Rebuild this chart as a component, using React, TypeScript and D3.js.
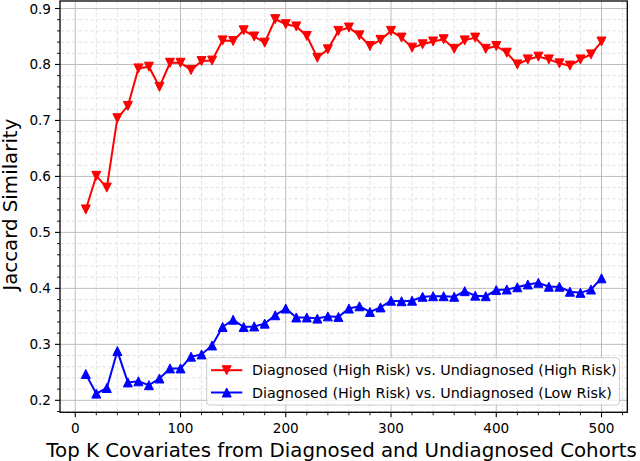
import React from "react";
import * as d3 from "d3";

const kValues = [10,20,30,40,50,60,70,80,90,100,110,120,130,140,150,160,170,180,190,200,210,220,230,240,250,260,270,280,290,300,310,320,330,340,350,360,370,380,390,400,410,420,430,440,450,460,470,480,490,500];
const highRisk = [0.541,0.601,0.580,0.704,0.726,0.793,0.796,0.760,0.803,0.803,0.790,0.806,0.807,0.843,0.842,0.861,0.850,0.839,0.881,0.872,0.868,0.851,0.812,0.827,0.860,0.866,0.852,0.833,0.844,0.860,0.848,0.830,0.836,0.841,0.845,0.828,0.843,0.848,0.828,0.833,0.821,0.800,0.809,0.814,0.809,0.802,0.798,0.809,0.818,0.841];
const lowRisk = [0.247,0.212,0.222,0.288,0.232,0.234,0.227,0.239,0.257,0.257,0.278,0.282,0.298,0.331,0.344,0.331,0.332,0.337,0.352,0.364,0.348,0.348,0.346,0.350,0.349,0.364,0.368,0.358,0.366,0.378,0.377,0.378,0.385,0.386,0.386,0.385,0.395,0.387,0.386,0.397,0.398,0.402,0.407,0.410,0.403,0.403,0.394,0.392,0.398,0.418];
const xTicks = [0,100,200,300,400,500];
const yTicks = [0.2,0.3,0.4,0.5,0.6,0.7,0.8,0.9];
const legendLabels = [
  "Diagnosed (High Risk) vs. Undiagnosed (High Risk)",
  "Diagnosed (High Risk) vs. Undiagnosed (Low Risk)",
];
const xLabel = "Top K Covariates from Diagnosed and Undiagnosed Cohorts";
const yLabel = "Jaccard Similarity";

const W = 640, H = 461;
const L = 60, R = 627.3, T = 1, B = 412.3;
const FONT = "DejaVu Sans, sans-serif";

function tri(up: boolean, s: number) {
  return up
    ? `M0,${-s}L${-s},${s}L${s},${s}Z`
    : `M0,${s}L${-s},${-s}L${s},${-s}Z`;
}

export default function App() {
  const x = d3.scaleLinear().domain([-14.5, 524.5]).range([L, R]);
  const y = d3.scaleLinear().domain([0.1786, 0.9134]).range([B, T]);
  const xMinor = d3.range(0, 521, 20).filter((v) => v % 100 !== 0);
  const yMinor = d3.range(0.18, 0.915, 0.02).filter((v) => Math.abs(Math.round(v * 10) - v * 10) > 0.01);
  const line = d3.line<number>().x((_, i) => x(kValues[i])).y((d) => y(d));
  const series = [
    { data: highRisk, color: "#ff0000", up: false },
    { data: lowRisk, color: "#0000ff", up: true },
  ];
  const lgX = 206.7, lgY = 357.7, lgW = 412.6, lgH = 47.3;
  return (
    <svg width={W} height={H} style={{ position: "absolute", left: 0, top: 0, background: "#fff" }} fontFamily={FONT}>
      {xMinor.map((v) => (
        <line key={"xm" + v} x1={x(v)} x2={x(v)} y1={T} y2={B} stroke="#dcdcdc" strokeWidth={0.8} strokeDasharray="4,2" />
      ))}
      {yMinor.map((v) => (
        <line key={"ym" + v} x1={L} x2={R} y1={y(v)} y2={y(v)} stroke="#dcdcdc" strokeWidth={0.8} strokeDasharray="4,2" />
      ))}
      {xTicks.map((v) => (
        <line key={"xg" + v} x1={x(v)} x2={x(v)} y1={T} y2={B} stroke="#bdbdbd" strokeWidth={1} />
      ))}
      {yTicks.map((v) => (
        <line key={"yg" + v} x1={L} x2={R} y1={y(v)} y2={y(v)} stroke="#bdbdbd" strokeWidth={1} />
      ))}
      {series.map((s, si) => (
        <g key={si}>
          <path d={line(s.data) || ""} fill="none" stroke={s.color} strokeWidth={2} />
          {s.data.map((v, i) => (
            <path key={i} d={tri(s.up, 4.5)} transform={`translate(${x(kValues[i])},${y(v)})`} fill={s.color} stroke={s.color} strokeWidth={1} />
          ))}
        </g>
      ))}
      <rect x={L} y={T} width={R - L} height={B - T} fill="none" stroke="#000" strokeWidth={1.3} />
      {xTicks.map((v) => (
        <g key={"xt" + v}>
          <line x1={x(v)} x2={x(v)} y1={B} y2={B + 5} stroke="#000" strokeWidth={1.1} />
          <text x={x(v)} y={B + 20.5} fontSize={13.6} textAnchor="middle" fill="#000">{v}</text>
        </g>
      ))}
      {xMinor.map((v) => (
        <line key={"xmt" + v} x1={x(v)} x2={x(v)} y1={B} y2={B + 3} stroke="#000" strokeWidth={0.9} />
      ))}
      {yTicks.map((v) => (
        <g key={"yt" + v}>
          <line x1={L} x2={L - 5} y1={y(v)} y2={y(v)} stroke="#000" strokeWidth={1.1} />
          <text x={L - 9} y={y(v) + 5} fontSize={13.6} textAnchor="end" fill="#000">{v.toFixed(1)}</text>
        </g>
      ))}
      {yMinor.map((v) => (
        <line key={"ymt" + v} x1={L} x2={L - 3} y1={y(v)} y2={y(v)} stroke="#000" strokeWidth={0.9} />
      ))}
      <text x={(L + R) / 2 - 2} y={457.3} fontSize={19.8} textAnchor="middle" fill="#000">{xLabel}</text>
      <text transform={`translate(16.5,${(T + B) / 2 - 2}) rotate(-90)`} fontSize={19.8} textAnchor="middle" fill="#000">{yLabel}</text>
      <rect x={lgX} y={lgY} width={lgW} height={lgH} rx={3} fill="#fff" fillOpacity={0.8} stroke="#cccccc" strokeWidth={1} />
      {series.map((s, i) => {
        const cy = lgY + 12.5 + i * 22.3;
        return (
          <g key={"lg" + i}>
            <line x1={211} x2={242.3} y1={cy} y2={cy} stroke={s.color} strokeWidth={2} />
            <path d={tri(s.up, 4.5)} transform={`translate(226.7,${cy})`} fill={s.color} stroke={s.color} strokeWidth={1} />
            <text x={252} y={cy + 5} fontSize={14.3} fill="#000">{legendLabels[i]}</text>
          </g>
        );
      })}
    </svg>
  );
}
